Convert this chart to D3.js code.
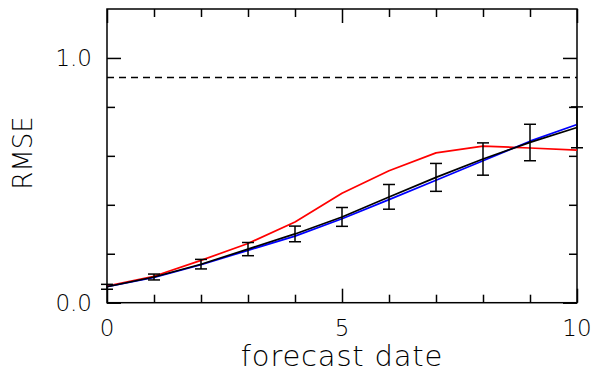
<!DOCTYPE html>
<html>
<head>
<meta charset="utf-8">
<script src="https://cdn.jsdelivr.net/npm/d3@7"></script>
<style>
  body { margin: 0; background: #fff; }
  text { font-family: "DejaVu Sans", sans-serif; font-weight: 200; fill: #000; }
</style>
</head>
<body>
<div id="chart"></div>
<script>
// forecast dates 0..10
const dates = [0, 1, 2, 3, 4, 5, 6, 7, 8, 9, 10];
const redSeries = [0.068, 0.108, 0.173, 0.242, 0.330, 0.447, 0.539, 0.612, 0.640, 0.632, 0.623];
const blueSeries = [0.065, 0.103, 0.155, 0.214, 0.272, 0.343, 0.421, 0.500, 0.580, 0.660, 0.728];
const blackSeries = [0.065, 0.105, 0.157, 0.219, 0.281, 0.350, 0.432, 0.512, 0.587, 0.655, 0.716];
const errLow = [0.055, 0.093, 0.138, 0.192, 0.249, 0.312, 0.382, 0.455, 0.521, 0.580, 0.633];
const errHigh = [0.075, 0.117, 0.177, 0.246, 0.313, 0.389, 0.483, 0.569, 0.653, 0.729, 0.800];
const refLevel = 0.92;
const xMajor = [0, 5, 10];
const xMinor = [1, 2, 3, 4, 6, 7, 8, 9];
const yMajor = [0.0, 1.0];
const yMinor = [0.2, 0.4, 0.6, 0.8];

const W = 595, H = 376;
const margin = { top: 9, right: 18, bottom: 73.3, left: 107 };
const width = W - margin.left - margin.right;
const height = H - margin.top - margin.bottom;

const svg = d3.select('#chart').append('svg')
    .attr('width', W)
    .attr('height', H);

const g = svg.append('g')
    .attr('transform', `translate(${margin.left},${margin.top})`);

const x = d3.scaleLinear().domain([0, 10]).range([0, width]);
const y = d3.scaleLinear().domain([0, 1.2]).range([height, 0]);

// ticks pointing inward on all four sides
function ticks(axis, vals, size, transform) {
    const a = g.append('g')
        .attr('transform', transform || null)
        .call(axis.tickValues(vals).tickSize(size).tickFormat(''));
    a.select('.domain').remove();
    a.selectAll('line').attr('stroke', '#000').attr('stroke-width', 1.5);
}
ticks(d3.axisBottom(x), xMinor, -8, `translate(0,${height})`);
ticks(d3.axisBottom(x), xMajor, -14, `translate(0,${height})`);
ticks(d3.axisTop(x), xMinor, -8);
ticks(d3.axisTop(x), xMajor, -14);
ticks(d3.axisLeft(y), yMinor, -8);
ticks(d3.axisLeft(y), yMajor, -14);
ticks(d3.axisRight(y), yMinor, -8, `translate(${width},0)`);
ticks(d3.axisRight(y), yMajor, -14, `translate(${width},0)`);

g.append('rect')
    .attr('width', width)
    .attr('height', height)
    .attr('fill', 'none')
    .attr('stroke', '#000')
    .attr('stroke-width', 1.5);

// dashed reference
g.append('line')
    .attr('x1', 0).attr('x2', width)
    .attr('y1', y(refLevel)).attr('y2', y(refLevel))
    .attr('stroke', '#000')
    .attr('stroke-width', 1.5)
    .attr('stroke-dasharray', '7,5');

const line = d3.line()
    .x((d, i) => x(dates[i]))
    .y(d => y(d));

[[redSeries, '#ff0000'], [blueSeries, '#0000ff'], [blackSeries, '#000']].forEach(([s, c]) => {
    g.append('path')
        .datum(s)
        .attr('fill', 'none')
        .attr('stroke', c)
        .attr('stroke-width', 1.7)
        .attr('stroke-linejoin', 'round')
        .attr('d', line);
});

// error bars
const eb = g.append('g').attr('stroke', '#000').attr('stroke-width', 1.5);
dates.forEach((d, i) => {
    const cx = x(d);
    eb.append('line').attr('x1', cx).attr('x2', cx).attr('y1', y(errLow[i])).attr('y2', y(errHigh[i]));
    eb.append('line').attr('x1', cx - 6).attr('x2', cx + 6).attr('y1', y(errLow[i])).attr('y2', y(errLow[i]));
    eb.append('line').attr('x1', cx - 6).attr('x2', cx + 6).attr('y1', y(errHigh[i])).attr('y2', y(errHigh[i]));
});

// tick labels
g.selectAll('.xl').data(xMajor).enter().append('text')
    .attr('x', d => x(d))
    .attr('y', height + 33)
    .attr('text-anchor', 'middle')
    .attr('font-size', 23)
    .text(d => d);

g.selectAll('.yl').data(yMajor).enter().append('text')
    .attr('x', -15)
    .attr('y', d => y(d) + 8.5)
    .attr('text-anchor', 'end')
    .attr('font-size', 23)
    .text(d => d.toFixed(1));

svg.append('text')
    .attr('x', margin.left + width / 2)
    .attr('y', 366)
    .attr('text-anchor', 'middle')
    .attr('font-size', 29)
    .attr('letter-spacing', 0.8)
    .text('forecast date');

svg.append('text')
    .attr('transform', 'translate(32,153) rotate(-90)')
    .attr('text-anchor', 'middle')
    .attr('font-size', 26)
    .text('RMSE');
</script>
</body>
</html>
